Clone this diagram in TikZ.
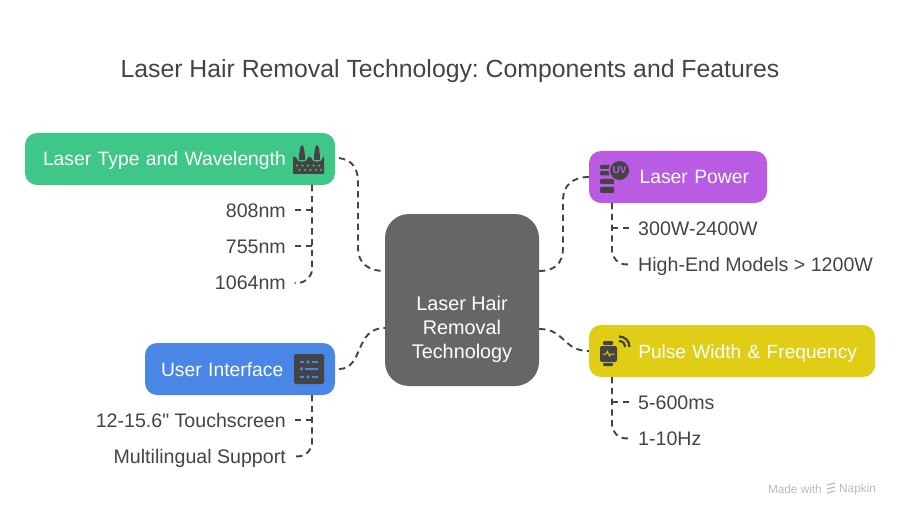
\documentclass[tikz,border=0pt]{standalone}
\usepackage{fontspec}
\setmainfont{Liberation Sans}[Ligatures=TeXOff]
\usetikzlibrary{positioning}
\definecolor{softgreen}{HTML}{3EC787}
\definecolor{softpurple}{HTML}{B95CE3}
\definecolor{softyellow}{HTML}{E0CD16}
\definecolor{softblue}{HTML}{4A86E5}
\definecolor{softgray}{HTML}{666666}
\definecolor{inkgray}{HTML}{444444}
\definecolor{markgray}{HTML}{BBBBBB}
\frenchspacing

\begin{document}
\begin{tikzpicture}[x=1pt,y=-1pt]
	\tikzstyle{centerbox}=[fill=softgray,rounded corners=24pt,minimum width=154pt,minimum height=172pt,inner sep=0pt,text=white,align=center,font=\fontsize{19.8}{24}\selectfont,text height=122pt]
	\tikzstyle{topicbox}=[rounded corners=12pt,minimum height=52pt,inner xsep=18pt,inner ysep=0pt,text=white,font=\fontsize{19.3}{22}\selectfont,text height=16pt,text depth=2pt]
	\tikzstyle{leaf}=[inner xsep=8.5pt,inner ysep=0pt,minimum height=24pt,text=inkgray,font=\fontsize{19.6}{22}\selectfont,text height=16pt,text depth=2pt]
	\tikzstyle{link}=[draw=inkgray,line width=1.9pt,dash pattern=on 6.3pt off 4.5pt]
	\tikzstyle{stem}=[link,rounded corners=14pt]
	\tikzstyle{icon}=[fill=inkgray]

	\useasboundingbox (0,0) rectangle (900,516);

	\node[text=inkgray,font=\fontsize{24.8}{28}\selectfont](title) at (450,71){Laser Hair Removal Technology: Components and Features};

	\node[centerbox](hair_removal) at (462,300){Laser Hair\\Removal\\Technology};

	\node[topicbox,fill=softgreen,text width=274pt,align=left](laser_type) at (180,159){Laser Type and Wavelength};
	\node[topicbox,fill=softblue,inner xsep=16pt,text width=158pt,align=left](user_interface) at (240,369){User Interface};
	\node[topicbox,fill=softpurple,text width=142pt,align=right](laser_power) at (678,177){Laser Power};
	\node[topicbox,fill=softyellow,text width=250pt,align=right,font=\fontsize{19.1}{22}\selectfont](pulse_width) at (732,351){Pulse Width \& Frequency};

	\node[leaf,anchor=east](nm_808) at (294.5,210){808nm};
	\node[leaf,below=12pt of nm_808.south east,anchor=north east](nm_755){755nm};
	\node[leaf,below=12pt of nm_755.south east,anchor=north east](nm_1064){1064nm};

	\node[leaf,anchor=east](touchscreen) at (294.5,420){12-15.6" Touchscreen};
	\node[leaf,below=12pt of touchscreen.south east,anchor=north east](multilingual){Multilingual Support};

	\node[leaf,anchor=west](watts) at (629.5,228){300W-2400W};
	\node[leaf,below=12pt of watts.south west,anchor=north west](high_end){High-End Models > 1200W};

	\node[leaf,anchor=west](pulse_ms) at (629.5,402){5-600ms};
	\node[leaf,below=12pt of pulse_ms.south west,anchor=north west](pulse_hz){1-10Hz};

	\node[text=markgray,font=\fontsize{11.8}{12}\selectfont,anchor=east,inner sep=0pt](made_with) at (822,489){Made with};
	\node[text=markgray,font=\fontsize{11.8}{12}\selectfont,anchor=west,inner sep=0pt](napkin) at (839,489){Napkin};

	\coordinate (laser_type_out) at (339,158);
	\coordinate (user_interface_out) at (339,369);
	\coordinate (laser_type_stem) at (312,185);
	\coordinate (user_interface_stem) at (312,395);
	\coordinate (laser_power_stem) at (612,203);
	\coordinate (pulse_width_stem) at (612,377);

	\draw[link](laser_type_out) .. controls (352,160) and (358,168) .. (358,182) -- (358,248) .. controls (358,263) and (368,271) .. (hair_removal.west|-0,271);
	\draw[link](user_interface_out) .. controls (364,369) and (354,328) .. (hair_removal.west|-0,328);
	\draw[link](hair_removal.east|-0,271) .. controls (555,271) and (563,263) .. (563,248) -- (563,200) .. controls (563,186) and (572,177) .. (laser_power.west);
	\draw[link](hair_removal.east|-0,329) .. controls (565,329) and (563,351) .. (pulse_width.west);

	\draw[stem](laser_type_stem) |- (nm_1064);
	\draw[link](laser_type_stem|-nm_808) -- (nm_808);
	\draw[link](laser_type_stem|-nm_755) -- (nm_755);

	\draw[stem](user_interface_stem) |- (multilingual);
	\draw[link](user_interface_stem|-touchscreen) -- (touchscreen);

	\draw[stem](laser_power_stem) |- (high_end);
	\draw[link](laser_power_stem|-watts) -- (watts);

	\draw[stem](pulse_width_stem) |- (pulse_hz);
	\draw[link](pulse_width_stem|-pulse_ms) -- (pulse_ms);

	\fill[icon] (293,157) -- (296,157) .. controls (297,162) and (307,162) .. (308,157) -- (311,157) .. controls (312,162) and (322,162) .. (323,157) -- (324,157) -- (324,174) -- (293,174) -- cycle;
	\foreach \x in {302,317} {
		\draw[softgreen,line width=1.2pt] (\x-5.5,157) .. controls (\x-4,162.5) and (\x+4,162.5) .. (\x+5.5,157);
		\fill[icon] (\x-3,160) .. controls (\x-3,153) and (\x-2,145) .. (\x,145) .. controls (\x+2,145) and (\x+3,153) .. (\x+3,160) -- cycle;
	}
	\foreach \x in {297,302.5,308,313.5,319} \fill[softgreen] (\x,165.5) circle (1.2pt);
	\foreach \x in {299.5,305,310.5,316,321} \fill[softgreen] (\x,170) circle (1.2pt);

	\foreach \y/\h in {165/4,171/4.5,179/5,187/6} \fill[icon,rounded corners=1pt] (600,\y) rectangle (614,\y+\h);
	\fill[softpurple] (619.5,170.5) circle (11pt);
	\fill[icon] (619.5,170.5) circle (9.5pt);
	\node[text=softpurple,font=\bfseries\fontsize{10}{10}\selectfont,inner sep=0pt](uv_mark) at (619.5,170.5){UV};

	\fill[icon,rounded corners=1pt] (603,341) rectangle (613,345);
	\fill[icon,rounded corners=1pt] (603,363) rectangle (613,366);
	\fill[icon,rounded corners=2pt] (600,346) rectangle (617,362);
	\draw[softyellow,line width=1pt] (602.5,354) -- (606,354) -- (607.5,351.5) -- (609.5,356) -- (611,354) -- (614.5,354);
	\draw[inkgray,line width=2.2pt] (619,341) .. controls (622.5,341) and (625,343.5) .. (625,347);
	\draw[inkgray,line width=2.2pt] (619,336.5) .. controls (625,336.5) and (629.5,341) .. (629.5,347);

	\fill[icon,rounded corners=2pt] (294,354) rectangle (324,384);
	\foreach \y in {362,377} {
		\draw[softblue,line width=1.3pt] (300,\y) -- (304,\y) (312,\y) -- (318,\y);
		\fill[softblue] (308,\y) circle (1.8pt);
	}
	\fill[softblue] (301.5,369) circle (1.8pt);
	\draw[softblue,line width=1.3pt] (305,369) -- (318,369);

	\foreach \y in {485,489,493} \draw[markgray,line width=1.3pt] (827,\y) -- (835,\y-2);
\end{tikzpicture}
\end{document}
